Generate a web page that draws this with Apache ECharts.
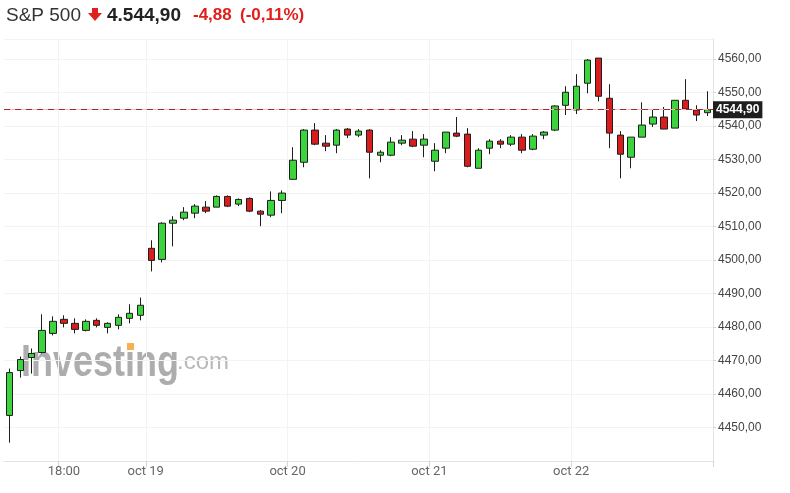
<!DOCTYPE html>
<html><head><meta charset="utf-8">
<script src="https://cdn.jsdelivr.net/npm/echarts@6/dist/echarts.min.js"></script>
<style>html,body{margin:0;padding:0;background:#fff}#c{width:790px;height:493px}</style>
</head><body><div id="c"></div>
<script>
// 30-minute sessions, 13 per day
const days = ['2021-10-18','2021-10-19','2021-10-20','2021-10-21','2021-10-22'];
const slots = ['15:30','16:00','16:30','17:00','17:30','18:00','18:30','19:00','19:30','20:00','20:30','21:00','21:30'];
const categories = [];
days.forEach(d => slots.forEach(s => categories.push(d + ' ' + s)));

const opens  = [4453.6,4467.0,4470.9,4472.4,4478.1,4482.3,4481.1,4479.0,4482.0,4479.9,4480.5,4482.6,4483.5,
                4503.5,4500.2,4511.0,4512.5,4514.0,4515.8,4515.8,4519.0,4516.7,4518.4,4514.6,4513.4,4517.8,
                4524.1,4529.2,4538.8,4534.9,4534.3,4539.1,4537.3,4538.8,4531.3,4531.3,4534.9,4536.1,4534.3,
                4529.5,4533.4,4537.9,4537.6,4527.4,4533.4,4535.5,4534.6,4536.7,4533.1,4537.3,4538.8,4546.2,
                4544.8,4552.8,4560.3,4548.3,4537.3,4530.7,4536.7,4540.6,4542.7,4539.4,4547.7,4544.8,4544.0];
const closes = [4466.4,4470.3,4472.1,4479.0,4481.7,4481.1,4479.3,4481.7,4480.5,4481.1,4482.9,4484.1,4486.5,
                4499.9,4511.0,4511.9,4514.3,4516.1,4514.6,4519.0,4516.1,4518.1,4514.6,4513.7,4517.8,4520.0,
                4529.8,4538.8,4534.6,4534.0,4538.8,4537.3,4538.5,4532.2,4532.2,4535.2,4535.8,4534.0,4536.1,
                4532.8,4538.2,4537.0,4528.0,4532.8,4535.5,4534.6,4536.7,4532.8,4537.0,4538.2,4546.0,4550.1,
                4551.9,4559.7,4548.9,4537.9,4531.6,4536.7,4540.3,4542.7,4539.1,4547.7,4545.1,4543.3,4544.9];
const lows   = [4445.5,4464.9,4466.1,4472.1,4477.5,4479.9,4478.1,4478.7,4479.9,4478.1,4479.3,4481.1,4482.0,
                4496.6,4499.3,4504.1,4511.9,4512.5,4514.0,4515.8,4515.8,4516.1,4514.3,4510.1,4512.8,4514.0,
                4524.1,4527.7,4534.3,4532.5,4531.9,4536.4,4536.7,4524.4,4529.2,4531.0,4534.3,4533.7,4530.7,
                4526.5,4531.9,4536.7,4527.7,4527.4,4531.6,4533.4,4534.0,4531.9,4532.8,4536.1,4538.5,4543.3,
                4543.6,4549.8,4547.4,4533.4,4524.4,4527.4,4536.7,4539.7,4539.1,4539.4,4544.8,4541.5,4543.0];
const highs  = [4467.6,4471.2,4473.6,4483.8,4483.2,4483.5,4482.6,4482.3,4482.6,4481.4,4483.8,4486.8,4488.8,
                4505.9,4511.3,4513.1,4515.8,4516.7,4517.6,4519.3,4519.3,4518.4,4518.7,4514.9,4520.5,4520.8,
                4533.7,4539.1,4540.9,4537.3,4539.1,4539.4,4539.1,4539.1,4532.8,4536.7,4537.3,4538.5,4537.6,
                4534.9,4538.2,4542.7,4539.4,4533.4,4536.1,4536.1,4537.3,4537.6,4537.6,4538.5,4546.2,4551.9,
                4555.5,4560.0,4560.3,4552.5,4538.5,4536.7,4547.1,4544.8,4545.7,4547.7,4554.0,4546.2,4550.4];

const tickIndex  = [5, 13, 26, 39, 52];
const tickLabels = ['18:00', 'oct 19', 'oct 20', 'oct 21', 'oct 22'];
const lastPrice = 4544.90;

const fmt = v => v.toFixed(2).replace('.', ',');
const ohlc = opens.map((o, i) => [o, closes[i], lows[i], highs[i]]);

const chart = echarts.init(document.getElementById('c'), null, {renderer: 'canvas'});
chart.setOption({
  animation: false,
  backgroundColor: '#fff',
  grid: {left: 4, right: 77, top: 39, bottom: 32},
  xAxis: {
    type: 'category',
    data: categories,
    boundaryGap: true,
    axisLine: {lineStyle: {color: '#e3e3e3'}},
    axisTick: {show: true, length: 6, lineStyle: {color: '#d6d6d6'},
      interval: (i) => tickIndex.includes(i)},
    splitLine: {show: true, lineStyle: {color: '#f3f3f3'},
      interval: (i) => tickIndex.includes(i)},
    axisLabel: {
      interval: (i) => tickIndex.includes(i),
      margin: 4,
      formatter: (v, i) => {
        const k = tickIndex.indexOf(i);
        if (k < 0) return '';
        return k === 0 ? '{t|' + tickLabels[k] + '}' : '{d|' + tickLabels[k] + '}';
      },
      rich: {
        t: {fontFamily: 'Roboto', fontSize: 13, color: '#666'},
        d: {fontFamily: 'Roboto', fontSize: 13, color: '#666', padding: [0, 11, 0, 0]}
      }
    }
  },
  yAxis: {
    type: 'value',
    position: 'right',
    min: 4440, max: 4566, interval: 10,
    axisLine: {show: true, lineStyle: {color: '#e3e3e3'}},
    axisTick: {show: true, length: 3, lineStyle: {color: '#d6d6d6'}},
    splitLine: {show: true, lineStyle: {color: '#f3f3f3'}},
    axisLabel: {
      margin: 5, showMinLabel: false, showMaxLabel: false,
      fontFamily: 'Liberation Sans, Arial', fontSize: 12, color: '#444',
      formatter: v => (v % 10 === 0 && v > 4440 && v < 4566) ? fmt(v) : ''
    }
  },
  graphic: [
    {type: 'text', left: 6, top: 6, z: 10, style: {text: 'S&P 500', font: '19px "Liberation Sans", Arial', fill: '#333'}},
    {type: 'polygon', z: 10, shape: {points: [[92,8],[98,8],[98,13],[102,13],[95,21],[88,13],[92,13]]}, style: {fill: '#e0201c'}},
    {type: 'text', left: 107, top: 6, z: 10, style: {text: '4.544,90', font: 'bold 19px "Liberation Sans", Arial', fill: '#222'}},
    {type: 'text', left: 193, top: 7, z: 10, style: {text: '-4,88', font: 'bold 17px "Liberation Sans", Arial', fill: '#e0201c'}},
    {type: 'text', left: 240, top: 7, z: 10, style: {text: '(-0,11%)', font: 'bold 17px "Liberation Sans", Arial', fill: '#e0201c'}},
    {type: 'text', x: 21, y: 341, z: -10, scaleX: 0.8, style: {text: 'Investing', font: 'bold 45px "Liberation Sans", Arial', fill: '#8a8a8a', opacity: 0.7}},
    {type: 'rect', z: -9, shape: {x: 127, y: 343, width: 7, height: 7}, style: {fill: '#f5b050', opacity: 1}},
    {type: 'text', x: 177, y: 350, z: -10, style: {text: '.com', font: '24px "Liberation Sans", Arial', fill: '#9a9a9a', opacity: 0.7}}
  ],
  series: [{
    type: 'candlestick',
    data: ohlc,
    barWidth: 7,
    itemStyle: {
      color: '#3cd43c', color0: '#d91c1c',
      borderColor: '#1e1e1e', borderColor0: '#1e1e1e', borderWidth: 1
    },
    markLine: {
      symbol: 'none', silent: true,
      data: [
        {yAxis: lastPrice, lineStyle: {color: '#f4b8b8', type: 'solid', width: 1}, label: {show: false}},
        {yAxis: lastPrice, lineStyle: {color: '#a32b2b', type: [6, 5], width: 1},
         label: {show: true, position: 'end', distance: 0, formatter: fmt(lastPrice),
                 backgroundColor: '#1e1e1e', color: '#fff', fontWeight: 'bold',
                 fontFamily: 'Liberation Sans, Arial', fontSize: 12, padding: [3, 3, 2, 3]}}
      ]
    }
  }]
});
</script></body></html>
